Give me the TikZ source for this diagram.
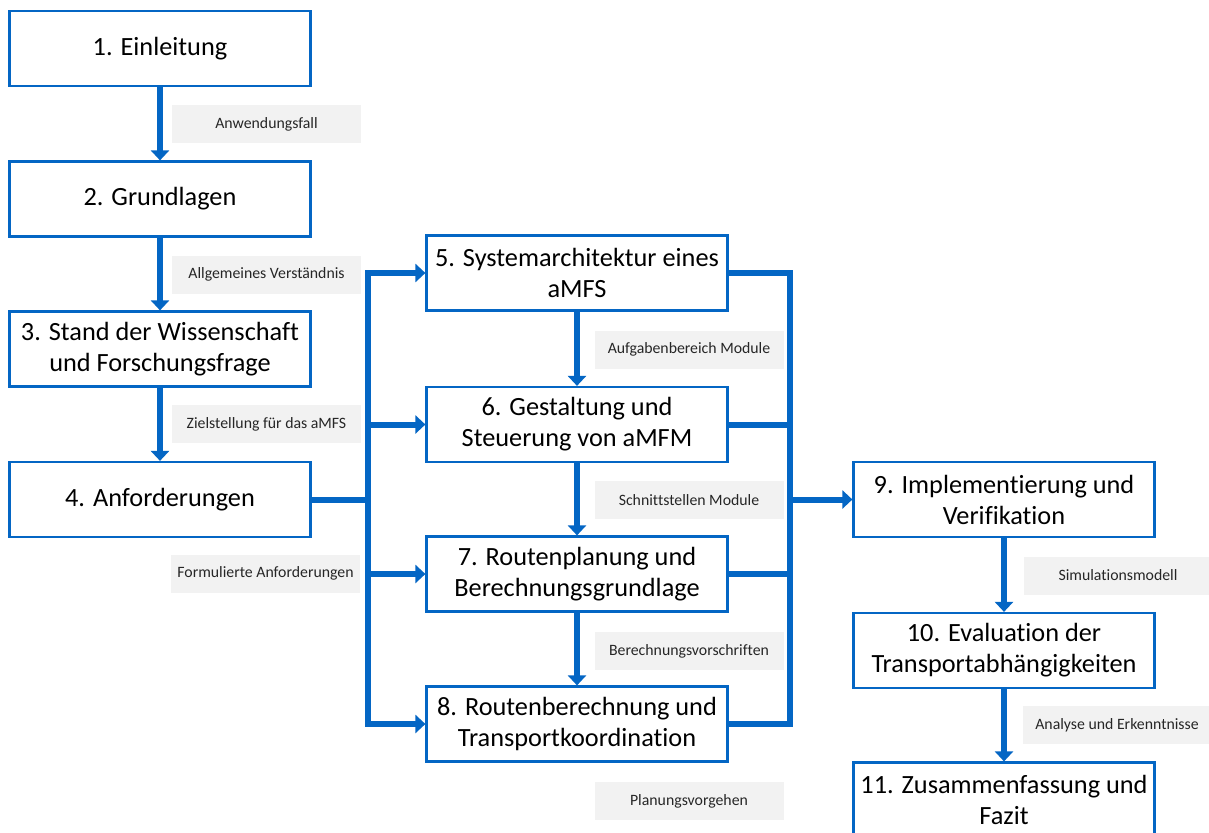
\documentclass[tikz,border=0pt]{standalone}
\usepackage{fontspec}
\setmainfont[Ligatures=NoCommon]{Carlito}
\usetikzlibrary{arrows.meta}
\definecolor{flowblue}{RGB}{4,102,196}
\definecolor{notegray}{RGB}{242,242,242}
\definecolor{notetext}{RGB}{38,38,38}
\begin{document}
\begin{tikzpicture}[x=1pt,y=-1pt,
  chapter/.style={draw=flowblue, line width=2.2pt, fill=white, minimum width=301pt,
    minimum height=75pt, align=center, inner sep=0pt,
    font=\fontsize{26.3}{31}\selectfont},
  note/.style={fill=notegray, minimum width=189pt, minimum height=38pt, inner sep=0pt,
    text=notetext, font=\fontsize{15.8}{18}\selectfont},
  conn/.style={draw=flowblue, line width=6pt, -{Triangle[width=18pt,length=10pt]}},
  bus/.style={draw=flowblue, line width=6pt, line cap=rect},
  link/.style={draw=flowblue, line width=6pt}]
\useasboundingbox (0,0) rectangle (1209,832);

% chapter boxes
\node[chapter] (b1) at (160,48.5) {1. Einleitung};
\node[chapter] (b2) at (160,199) {2. Grundlagen};
\node[chapter] (b3) at (160,349) {3. Stand der Wissenschaft\\und Forschungsfrage};
\node[chapter] (b4) at (160,499.5) {4. Anforderungen};
\node[chapter] (b5) at (577,273) {5. Systemarchitektur eines\\aMFS};
\node[chapter] (b6) at (577,424.5) {6. Gestaltung und\\Steuerung von aMFM};
\node[chapter] (b7) at (577,574) {7. Routenplanung und\\Berechnungsgrundlage};
\node[chapter] (b8) at (577,724) {8. Routenberechnung und\\Transportkoordination};
\node[chapter] (b9) at (1004,499.5) {9. Implementierung und\\Verifikation};
\node[chapter] (b10) at (1004,650.5) {10. Evaluation der\\Transportabhängigkeiten};
\node[chapter] (b11) at (1004,800) {11. Zusammenfassung und\\Fazit};

% notes on the flow
\node[note] (n1) at (266.5,124) {Anwendungsfall};
\node[note] (n2) at (266.5,274.5) {Allgemeines Verständnis};
\node[note] (n3) at (266.5,424) {Zielstellung für das aMFS};
\node[note] (n4) at (265.5,573.5) {Formulierte Anforderungen};
\node[note] (n5) at (689,349.5) {Aufgabenbereich Module};
\node[note] (n6) at (689,500) {Schnittstellen Module};
\node[note] (n7) at (689,651) {Berechnungsvorschriften};
\node[note] (n8) at (689,801) {Planungsvorgehen};
\node[note] (n9) at (1118,575.5) {Simulationsmodell};
\node[note] (n10) at (1117,725) {Analyse und Erkenntnisse};

% left column
\draw[conn] (b1) -- (b2);
\draw[conn] (b2) -- (b3);
\draw[conn] (b3) -- (b4);

% middle column
\draw[conn] (b5) -- (b6);
\draw[conn] (b6) -- (b7);
\draw[conn] (b7) -- (b8);

% right column
\draw[conn] (b9) -- (b10);
\draw[conn] (b10) -- (b11);

% distribution bus from chapter 4
\coordinate (lt) at (368,273);
\coordinate (lb) at (368,724);
\draw[bus] (lt) -- (lb);
\draw[link] (b4.east) -- (b4.east -| lt);
\draw[conn] (lt) -- (b5.west);
\draw[conn] (b6.west -| lt) -- (b6.west);
\draw[conn] (b7.west -| lt) -- (b7.west);
\draw[conn] (lb) -- (b8.west);

% collecting bus towards chapter 9
\coordinate (rt) at (790,273);
\coordinate (rb) at (790,724);
\draw[bus] (rt) -- (rb);
\draw[link] (b5.east) -- (rt);
\draw[link] (b6.east) -- (b6.east -| rt);
\draw[link] (b7.east) -- (b7.east -| rt);
\draw[link] (b8.east) -- (rb);
\draw[conn] (b9.west -| rt) -- (b9.west);
\end{tikzpicture}
\end{document}
